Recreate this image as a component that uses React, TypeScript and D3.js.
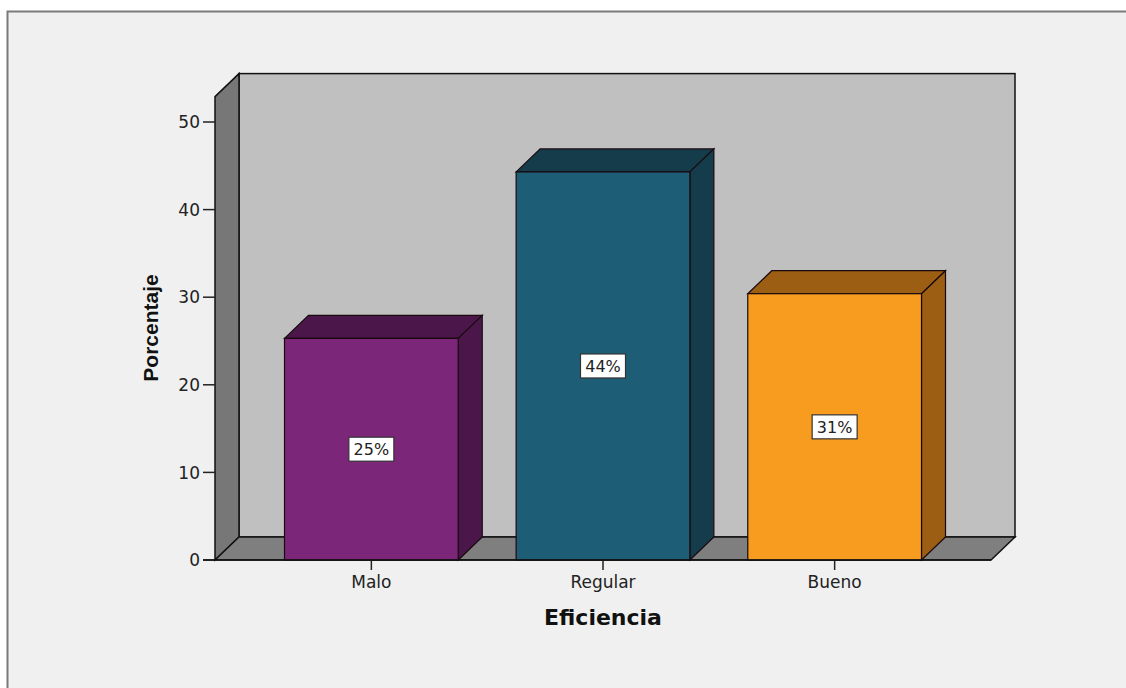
import React from "react"
import * as d3 from "d3"

// data
const categories = ["Malo", "Regular", "Bueno"]
const percentValues = [25.3, 44.3, 30.4]
const percentLabels = ["25%", "44%", "31%"]
const yTicks = [0, 10, 20, 30, 40, 50]

const frontColors = ["#7b2679", "#1d5e76", "#f79c1f"]
const sideColors = ["#4b174a", "#143c4b", "#9b5e12"]

const W = 1126
const H = 688
const left = 215
const right = 991
const bottom = 560
const dx = 24
const dy = 23

const App = () => {
	const y = d3.scaleLinear().domain([0, 50]).range([bottom, 122])
	const x = d3
		.scaleBand()
		.domain(categories)
		.range([left, right])
		.paddingInner(0.25)
		.paddingOuter(0.3)

	const wallTop = y(52.9)
	const tickFont = { fontFamily: "DejaVu Sans", fontSize: 17, fill: "#222" }

	const pts = (arr: number[][]) => arr.map(p => p.join(",")).join(" ")

	return (
		<svg
			width={W}
			height={H}
			style={{ position: "absolute", left: 0, top: 0, background: "#fff" }}
		>
			{/* outer frame */}
			<rect x={7.5} y={11.5} width={1130} height={700} fill="#f0f0f0" stroke="#7a7a7a" strokeWidth={2} />

			{/* back wall */}
			<rect
				x={left + dx}
				y={wallTop - dy}
				width={right - left}
				height={bottom - dy - (wallTop - dy)}
				fill="#c0c0c0"
				stroke="#111"
				strokeWidth={1.5}
			/>
			{/* left wall */}
			<polygon
				points={pts([
					[left, bottom],
					[left, wallTop],
					[left + dx, wallTop - dy],
					[left + dx, bottom - dy],
				])}
				fill="#777"
				stroke="#111"
				strokeWidth={1.5}
			/>
			{/* floor */}
			<polygon
				points={pts([
					[left, bottom],
					[right, bottom],
					[right + dx, bottom - dy],
					[left + dx, bottom - dy],
				])}
				fill="#7f7f7f"
				stroke="#111"
				strokeWidth={1.5}
			/>

			{/* y axis ticks */}
			{yTicks.map(t => (
				<g key={t}>
					<line x1={203} x2={left} y1={y(t)} y2={y(t)} stroke="#222" strokeWidth={1.5} />
					<text x={200} y={y(t)} dy="0.36em" textAnchor="end" {...tickFont}>
						{t}
					</text>
				</g>
			))}

			{/* bars */}
			{categories.map((c, i) => {
				const x0 = x(c) as number
				const x1 = x0 + x.bandwidth()
				const yv = y(percentValues[i])
				const cx = x0 + x.bandwidth() / 2
				const cy = y(percentValues[i] / 2)
				const lw = percentLabels[i].length * 12 + 9
				return (
					<g key={c}>
						<polygon
							points={pts([
								[x0, yv],
								[x0 + dx, yv - dy],
								[x1 + dx, yv - dy],
								[x1, yv],
							])}
							fill={sideColors[i]}
							stroke="#1a0a10"
							strokeWidth={1.2}
						/>
						<polygon
							points={pts([
								[x1, yv],
								[x1 + dx, yv - dy],
								[x1 + dx, bottom - dy],
								[x1, bottom],
							])}
							fill={sideColors[i]}
							stroke="#1a0a10"
							strokeWidth={1.2}
						/>
						<rect
							x={x0}
							y={yv}
							width={x.bandwidth()}
							height={bottom - yv}
							fill={frontColors[i]}
							stroke="#1a0a10"
							strokeWidth={1.2}
						/>
						<rect x={cx - lw / 2} y={cy - 12} width={lw} height={24} fill="#fff" stroke="#333" strokeWidth={1.2} />
						<text x={cx} y={cy} dy="0.36em" textAnchor="middle" fontFamily="DejaVu Sans" fontSize={16} fill="#222">
							{percentLabels[i]}
						</text>
						<line x1={cx} x2={cx} y1={bottom} y2={bottom + 10} stroke="#222" strokeWidth={1.5} />
						<text x={cx} y={bottom + 22} dy="0.36em" textAnchor="middle" {...tickFont}>
							{c}
						</text>
					</g>
				)
			})}

			{/* front edge of the floor */}
			<line x1={left - 12} x2={right} y1={bottom} y2={bottom} stroke="#111" strokeWidth={1.5} />

			{/* axis titles */}
			<text
				x={(left + right) / 2}
				y={617}
				dy="0.36em"
				textAnchor="middle"
				fontFamily="DejaVu Sans"
				fontWeight="bold"
				fontSize={22}
				fill="#111"
			>
				Eficiencia
			</text>
			<text
				transform={`translate(150, 328) rotate(-90)`}
				dy="0.36em"
				textAnchor="middle"
				fontFamily="Liberation Sans"
				fontWeight="bold"
				fontSize={21}
				fill="#111"
			>
				Porcentaje
			</text>
		</svg>
	)
}

export default App
